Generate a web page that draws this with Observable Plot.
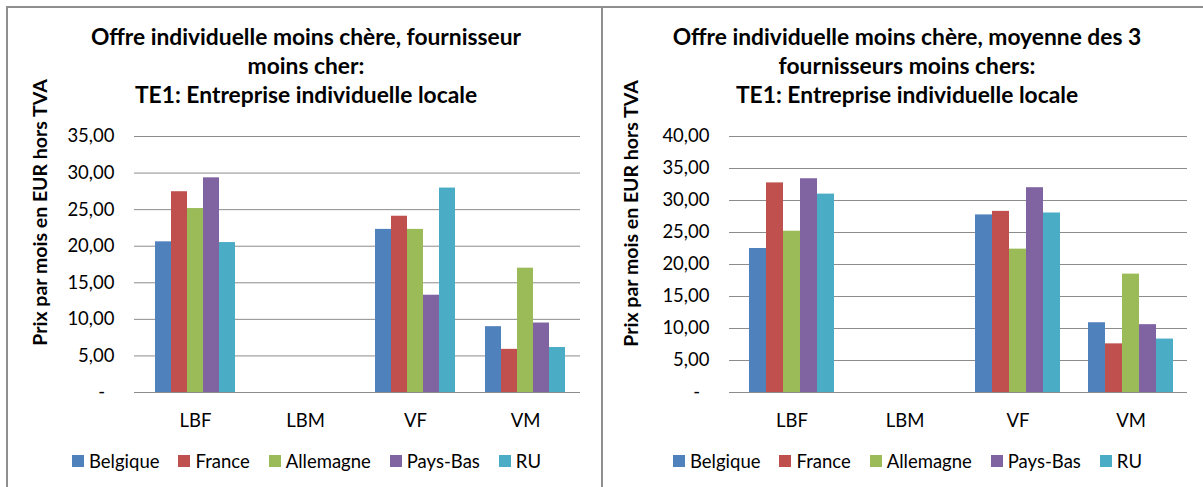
<!DOCTYPE html>
<html>
<head>
<meta charset="utf-8">
<script src="https://cdn.jsdelivr.net/npm/d3@7"></script>
<script src="https://cdn.jsdelivr.net/npm/@observablehq/plot@0.6"></script>
<style>
  html, body { margin: 0; padding: 0; background: #fff; }
  body { width: 1203px; height: 487px; position: relative; overflow: hidden; font-family: Lato, "Open Sans", sans-serif; color: #000; }
  .line { position: absolute; background: #8f8f8f; }
  .title { position: absolute; top: 22px; text-align: center; font-weight: bold; font-size: 22.8px; line-height: 29px; white-space: nowrap; }
  .chart { position: absolute; top: 116px; }
  .legend { position: absolute; top: 449px; display: flex; align-items: center; font-size: 18.5px; line-height: 24px; white-space: nowrap; }
  .legend .item { display: flex; align-items: center; margin-right: 19px; }
  .legend .sw { width: 12px; height: 12px; margin-right: 5px; }
</style>
</head>
<body>
<div class="line" style="left:7px;top:6px;width:1196px;height:2px"></div>
<div class="line" style="left:6px;top:6px;width:2px;height:481px"></div>
<div class="line" style="left:601px;top:6px;width:2px;height:481px"></div>

<div id="t1" class="title" style="left:0px;width:612px"></div>
<div id="t2" class="title" style="left:603px;width:608px"></div>
<div id="c1" class="chart" style="left:0px"></div>
<div id="c2" class="chart" style="left:603px"></div>
<div id="l1" class="legend" style="left:72px"></div>
<div id="l2" class="legend" style="left:673px"></div>

<script>
// ---- data ----
const categories = ["LBF", "LBM", "VF", "VM"];
const countries = ["Belgique", "France", "Allemagne", "Pays-Bas", "RU"];
const colors = ["#4F81BD", "#C0504D", "#9BBB59", "#8064A2", "#4BACC6"];
const yLabel = "Prix par mois en EUR hors TVA";

const title1 = ["Offre individuelle moins chère, fournisseur", "moins cher:", "TE1: Entreprise individuelle locale"];
const title2 = ["Offre individuelle moins chère, moyenne des 3", "fournisseurs moins chers:", "TE1: Entreprise individuelle locale"];

// chart 1: fournisseur moins cher (Belgique, France, Allemagne, Pays-Bas, RU)
const c1_LBF = [20.6, 27.45, 25.15, 29.35, 20.5];
const c1_LBM = [null, null, null, null, null];
const c1_VF  = [22.3, 24.1, 22.3, 13.3, 27.95];
const c1_VM  = [9.0, 5.9, 17.0, 9.5, 6.15];
const c1_ticks = [0, 5, 10, 15, 20, 25, 30, 35];

// chart 2: moyenne des 3 fournisseurs moins chers
const c2_LBF = [22.5, 32.75, 25.2, 33.4, 31.0];
const c2_LBM = [null, null, null, null, null];
const c2_VF  = [27.75, 28.3, 22.4, 32.0, 28.05];
const c2_VM  = [10.9, 7.6, 18.5, 10.6, 8.35];
const c2_ticks = [0, 5, 10, 15, 20, 25, 30, 35, 40];

// ---- rendering ----
const GRID = "#8c8c8c";
const MT = 20, MB = 50, MR = 10, PH = 256;

const fmt = d => d === 0 ? "-\u00a0\u00a0" : d.toFixed(2).replace(".", ",");

function makeChart(series, ticks, ml, width, labelDx, labelDy) {
  const rows = [];
  categories.forEach((c, i) => countries.forEach((k, j) => rows.push({cat: c, country: k, value: series[i][j]})));
  const bw = (width - ml - MR) / categories.length;
  const yMax = ticks[ticks.length - 1];
  const first = categories[0], last = categories[categories.length - 1];
  return Plot.plot({
    width, height: MT + PH + MB,
    marginLeft: ml, marginRight: MR, marginTop: MT, marginBottom: MB,
    style: {fontFamily: "Lato, 'Open Sans', sans-serif", fontSize: "18.5px", color: "#000", background: "transparent", overflow: "visible"},
    fx: {domain: categories, padding: 0, label: null},
    x: {domain: countries, paddingInner: 0, paddingOuter: 0.75, axis: null},
    y: {domain: [0, yMax], axis: null},
    color: {domain: countries, range: colors},
    marks: [
      Plot.ruleY(ticks.filter(t => t > 0), {stroke: GRID, strokeWidth: 1}),
      Plot.barY(rows, {fx: "cat", x: "country", y: "value", fill: "country"}),
      Plot.ruleY([0], {stroke: GRID, strokeWidth: 1.2}),
      Plot.ruleX(categories, {fx: d => d, y1: 0, y2: 0, insetBottom: -6, dx: -bw / 2, stroke: GRID, strokeWidth: 1.2}),
      Plot.ruleX([last], {fx: d => d, y1: 0, y2: 0, insetBottom: -6, dx: bw / 2, stroke: GRID, strokeWidth: 1.2}),
      Plot.ruleX([first], {fx: d => d, y1: 0, y2: yMax, dx: -bw / 2, stroke: GRID, strokeWidth: 1.2}),
      Plot.axisY({ticks, tickFormat: fmt, tickSize: 6, tickPadding: 20, stroke: GRID, label: null, fontSize: 18.5}),
      Plot.axisFx({anchor: "bottom", tickSize: 0, tickPadding: 21, label: null, fontSize: 18.5}),
      Plot.text([yLabel], {fx: () => first, text: d => d, frameAnchor: "left", textAnchor: "middle", rotate: -90, dx: labelDx, dy: labelDy, fontWeight: "bold", fontSize: 19.5})
    ]
  });
}

function fillTitle(id, lines) {
  const el = document.getElementById(id);
  lines.forEach(t => { const d = document.createElement("div"); d.textContent = t; el.appendChild(d); });
}
function fillLegend(id) {
  const el = document.getElementById(id);
  countries.forEach((k, i) => {
    const it = document.createElement("div"); it.className = "item";
    const sw = document.createElement("div"); sw.className = "sw"; sw.style.background = colors[i];
    const tx = document.createElement("span"); tx.textContent = k;
    it.appendChild(sw); it.appendChild(tx); el.appendChild(it);
  });
}

fillTitle("t1", title1);
fillTitle("t2", title2);
document.getElementById("c1").appendChild(makeChart([c1_LBF, c1_LBM, c1_VF, c1_VM], c1_ticks, 139, 591, -100, -52));
document.getElementById("c2").appendChild(makeChart([c2_LBF, c2_LBM, c2_VF, c2_VM], c2_ticks, 131, 595, -104, -51));
fillLegend("l1");
fillLegend("l2");
</script>
</body>
</html>
